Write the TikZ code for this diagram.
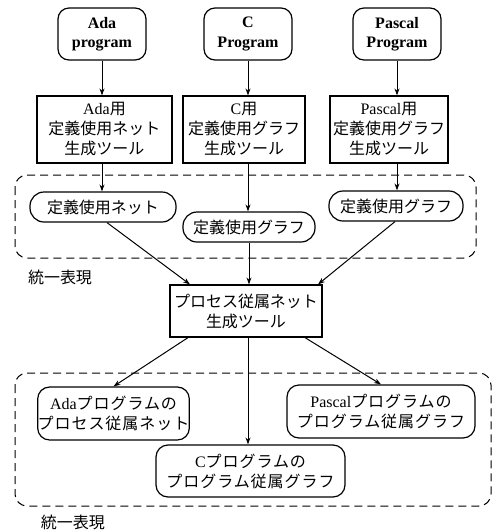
\documentclass[tikz,border=0pt]{standalone}
\usepackage{fontspec}
\setmainfont{Liberation Serif}
\newfontfamily\jpf{Noto Sans CJK JP}
\newfontfamily\jpwide{Noto Sans CJK JP}[LetterSpace=6]
\usetikzlibrary{arrows.meta,calc}
\newcommand\jt[1]{{\jpf #1}}
\newcommand\jw[1]{{\jpwide #1}}
\begin{document}
\begin{tikzpicture}[x=1pt,y=-1pt,
  prog/.style={draw,line width=1.2pt,rounded corners=11pt,minimum width=88pt,minimum height=52pt,
    align=center,inner sep=0pt,font=\bfseries\fontsize{16}{19.5}\selectfont},
  tool/.style={draw,line width=1.2pt,minimum height=67pt,align=center,inner sep=0pt,
    font=\fontsize{16}{20}\selectfont},
  oval/.style={draw,line width=1.2pt,rounded corners=14pt,minimum height=30pt,align=center,inner sep=0pt,
    font=\fontsize{16}{18}\selectfont\jpf},
  res/.style={draw,line width=1.2pt,rounded corners=12pt,minimum height=53pt,align=center,inner sep=0pt,
    font=\fontsize{16}{20}\selectfont},
  region/.style={draw,line width=1pt,dash pattern=on 8pt off 5pt,rounded corners=12pt},
  lbl/.style={font=\fontsize{16}{18}\selectfont\jpf,inner sep=0pt},
  arr/.style={line width=1pt,-{Stealth[length=7pt,width=5pt]}}
]
\useasboundingbox (0,0) rectangle (494,531);

% dashed regions
\draw[region] (15,175) rectangle (476,258);
\draw[region] (15,373) rectangle (491,506);

% program nodes
\node[prog] (adaP) at (102,34) {Ada\\program};
\node[prog] (cP) at (248,34) {C\\Program};
\node[prog] (pasP) at (397,34) {Pascal\\Program};

% tool nodes
\node[tool,minimum width=135pt] (adaT) at (104.5,129.5) {Ada\jt{用}\\\jt{定義使用ネット}\\\jt{生成ツール}};
\node[tool,minimum width=122pt] (cT) at (244,129.5) {C\jt{用}\\\jt{定義使用グラフ}\\\jt{生成ツール}};
\node[tool,minimum width=118pt] (pasT) at (389,129.5) {Pascal\jt{用}\\\jt{定義使用グラフ}\\\jt{生成ツール}};

% unified representation (upper)
\node[oval,minimum width=146pt] (o1) at (103,207) {定義使用ネット};
\node[oval,minimum width=132pt] (o2) at (249,227) {定義使用グラフ};
\node[oval,minimum width=134pt] (o3) at (396,206) {定義使用グラフ};
\node[lbl] (l1) at (60,277) {統一表現};

% process tool
\node[tool,minimum width=152pt,minimum height=52pt] (proc) at (246,311) {\jt{プロセス従属ネット}\\\jt{生成ツール}};

% results
\node[res,minimum width=151pt] (n1) at (113.5,413.5) {Ada\jw{プログラムの}\\\jw{プロセス従属ネット}};
\node[res,minimum width=188pt] (n3) at (381,411.5) {Pascal\jw{プログラムの}\\\jw{プログラム従属グラフ}};
\node[res,minimum width=189pt,minimum height=52pt] (n2) at (250.5,471) {C\jw{プログラムの}\\\jw{プログラム従属グラフ}};
\node[lbl] (l2) at (73,522) {統一表現};

% helper coordinates
\coordinate (pin1) at ($(proc.north)+(-56,0)$);
\coordinate (pin3) at ($(proc.north)+(72,0)$);
\coordinate (pout1) at ($(proc.south)+(-58,0)$);
\coordinate (pout2) at ($(proc.south)+(2,0)$);
\coordinate (pout3) at ($(proc.south)+(59,0)$);
\coordinate (o1s) at ($(o1.south)+(4,0)$);
\coordinate (o3s) at ($(o3.south)+(-1,0)$);

% arrows top
\draw[arr] (adaP.south) -- (adaP.south |- adaT.north);
\draw[arr] (cP.south) -- (cP.south |- cT.north);
\draw[arr] (pasP.south) -- (pasP.south |- pasT.north);

\draw[arr] (adaT.south -| adaP.south) -- (adaP.south |- o1.north);
\draw[arr] (cT.south -| cP.south) -- (cP.south |- o2.north);
\draw[arr] (pasT.south -| pasP.south) -- (pasP.south |- o3.north);

% into process tool
\draw[arr] (o1s) -- (pin1);
\draw[arr] (o2.south) -- (o2.south |- proc.north);
\draw[arr] (o3s) -- (pin3);

% out of process tool
\draw[arr] (pout1) -- (n1.north);
\draw[arr] (pout2) -- (pout2 |- n2.north);
\draw[arr] (pout3) -- (n3.north);
\end{tikzpicture}
\end{document}
